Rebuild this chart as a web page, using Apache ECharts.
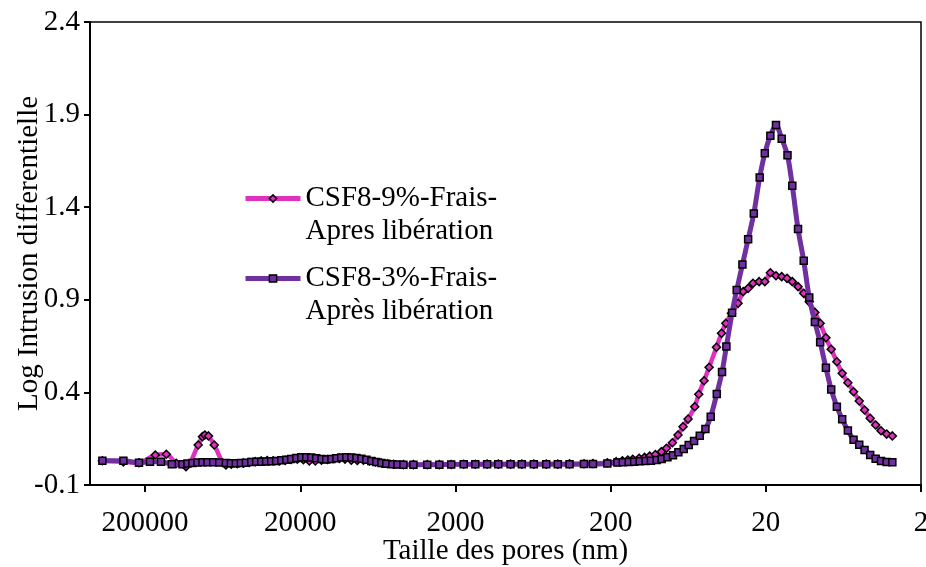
<!DOCTYPE html>
<html>
<head>
<meta charset="utf-8">
<script src="https://cdn.jsdelivr.net/npm/echarts@6/dist/echarts.min.js"></script>
<style>html,body{margin:0;padding:0;background:#fff}#c{width:926px;height:567px}</style>
</head>
<body>
<div id="c"></div>
<script>
// ---- Data (pore size in nm, log differential intrusion) ----
const seriesNames = ['CSF8-9%-Frais-\nApres libération', 'CSF8-3%-Frais-\nAprès libération'];

const poreA = [377000,276000,219000,172000,146000,126000,109000,91000,85400,82400,78100,71700,60300,55700,51000,46600,42700,39000,35700,32700,29900,27300,25000,22900,20900,19100,17500,16000,14600,13400,12300,11200,10300,9380,8580,7840,7170,6560,6000,5490,5020,4330,3730,3040,2540,2130,1770,1490,1250,1060,883,747,625,520,438,368,297,260,210,184,168,155,144,131,121,112,103,94.2,87.4,80.0,73.6,68.3,63.4,57.4,54.1,50.0,46.4,41.6,38.6,36.2,33.3,30.2,28.0,26.0,24.2,22.1,20.3,18.7,17.2,15.8,14.6,13.5,12.4,11.4,10.5,9.66,8.93,8.20,7.58,6.97,6.44,5.92,5.44,5.00,4.62,4.25,3.92,3.62,3.33,3.06];
const valA = [0.031,0.025,0.020,0.062,0.066,0.017,-0.001,0.116,0.161,0.170,0.165,0.116,0.008,0.012,0.015,0.018,0.022,0.026,0.030,0.032,0.031,0.030,0.033,0.038,0.040,0.036,0.030,0.030,0.034,0.038,0.042,0.044,0.040,0.034,0.032,0.034,0.030,0.024,0.019,0.015,0.012,0.010,0.010,0.010,0.010,0.011,0.012,0.012,0.013,0.013,0.013,0.013,0.013,0.013,0.013,0.014,0.015,0.016,0.020,0.026,0.031,0.035,0.039,0.044,0.049,0.056,0.065,0.080,0.098,0.128,0.170,0.215,0.256,0.323,0.390,0.463,0.536,0.644,0.719,0.773,0.827,0.881,0.944,0.962,0.989,0.998,0.998,1.046,1.030,1.025,1.016,0.998,0.971,0.935,0.889,0.832,0.773,0.695,0.633,0.566,0.503,0.452,0.404,0.354,0.305,0.260,0.224,0.193,0.175,0.165];

const poreB = [377000,276000,219000,186000,158000,134500,114900,106700,99100,92000,85400,79300,72800,66600,60300,56000,52000,48300,44800,41400,38500,35700,33200,30800,28600,26500,24600,22900,21200,19700,18300,17000,15800,14600,13600,12600,11700,10900,10100,9380,8700,8080,7500,6970,6470,6000,5580,5100,4730,4330,3730,3040,2540,2130,1770,1490,1250,1060,883,747,625,520,438,368,297,260,210,181,167,153,141,130,119,110,101,93.8,86.1,79.3,73.2,67.6,62.8,58.0,53.3,49.0,45.3,41.4,38.3,35.9,33.0,30.8,28.3,26.0,23.9,21.9,20.3,18.7,17.2,15.8,14.5,13.5,12.4,11.4,10.5,9.66,8.93,8.20,7.58,6.97,6.44,5.92,5.44,5.00,4.62,4.25,3.92,3.62,3.33,3.06];
const valB = [0.031,0.031,0.020,0.026,0.026,0.012,0.012,0.016,0.019,0.021,0.023,0.023,0.023,0.021,0.019,0.017,0.017,0.019,0.020,0.024,0.026,0.026,0.027,0.028,0.030,0.033,0.037,0.041,0.046,0.050,0.050,0.048,0.044,0.040,0.038,0.040,0.044,0.048,0.050,0.049,0.046,0.042,0.036,0.030,0.024,0.019,0.015,0.012,0.011,0.010,0.010,0.010,0.010,0.011,0.012,0.012,0.012,0.012,0.012,0.012,0.012,0.012,0.012,0.012,0.013,0.013,0.016,0.022,0.023,0.024,0.026,0.028,0.030,0.031,0.035,0.040,0.050,0.061,0.077,0.095,0.116,0.138,0.166,0.203,0.269,0.392,0.510,0.648,0.830,0.953,1.090,1.227,1.366,1.561,1.691,1.786,1.844,1.770,1.680,1.516,1.282,1.111,0.912,0.780,0.671,0.533,0.416,0.323,0.255,0.194,0.144,0.117,0.089,0.062,0.042,0.030,0.024,0.023];

const xTickLabels = [2, 20, 200, 2000, 20000, 200000];
const yTickLabels = [-0.1, 0.4, 0.9, 1.4, 1.9, 2.4];
const xMaxPore = 453000;
const colors = ['#E030C0', '#7030A0'];

// ---- transforms: x -> decades above 2 nm, y -> offset so axis min is 0 ----
const X0 = xTickLabels[0];
const Y0 = yTickLabels[0];
const toX = d => Math.log10(d / X0);
const toY = v => v - Y0;
const build = (p, v) => p.map((d, i) => [toX(d), toY(v[i])]);

const FONT = "'Liberation Serif','Times New Roman',serif";
const FS = 29;
const chart = echarts.init(document.getElementById('c'), null, {renderer: 'canvas'});
chart.setOption({
  animation: false,
  backgroundColor: '#fff',
  grid: {left: 90, right: 5, top: 22, bottom: 82, containLabel: false, outerBoundsMode: 'none',
         show: true, borderColor: '#000', borderWidth: 1.5},
  legend: {
    orient: 'vertical', left: 238, top: 144,
    itemWidth: 55, itemHeight: 9, itemGap: -19,
    data: seriesNames.map((n, i) => ({
      name: n,
      lineStyle: {width: 5, color: colors[i]},
      itemStyle: {color: colors[i], borderColor: '#000', borderWidth: 1.5}
    })),
    formatter: n => '\n' + n,
    textStyle: {fontFamily: FONT, fontSize: FS, color: '#000', lineHeight: 33}
  },
  xAxis: {
    type: 'value', inverse: true, min: 0, max: toX(xMaxPore), interval: 1,
    name: 'Taille des pores (nm)', nameLocation: 'middle', nameGap: 52, nameMoveOverlap: false,
    nameTextStyle: {fontFamily: FONT, fontSize: FS, color: '#000'},
    axisLine: {onZero: false, lineStyle: {color: '#000', width: 2}},
    axisTick: {show: true, inside: false, length: 7, lineStyle: {color: '#000', width: 2}},
    axisLabel: {
      fontFamily: FONT, fontSize: FS, color: '#000', margin: 24,
      showMaxLabel: false,
      formatter: v => {
        const r = Math.round(v);
        if (Math.abs(v - r) > 1e-6) return '';
        return String(X0 * Math.pow(10, r));
      }
    },
    splitLine: {show: false}
  },
  yAxis: {
    type: 'value', min: 0, max: toY(yTickLabels[yTickLabels.length - 1]), interval: 0.5,
    name: 'Log Intrusion differentielle', nameLocation: 'middle', nameGap: 46, nameMoveOverlap: false,
    nameTextStyle: {fontFamily: FONT, fontSize: FS, color: '#000'},
    axisLine: {show: true, onZero: false, lineStyle: {color: '#000', width: 2}},
    axisTick: {show: true, inside: false, length: 6, lineStyle: {color: '#000', width: 2}},
    axisLabel: {
      fontFamily: FONT, fontSize: FS, color: '#000', margin: 10,
      formatter: v => (v + Y0).toFixed(1)
    },
    splitLine: {show: false}
  },
  series: [
    {
      name: seriesNames[0], type: 'line', data: build(poreA, valA),
      smooth: 0.3, symbol: 'diamond', symbolSize: 8,
      lineStyle: {color: colors[0], width: 4.5},
      itemStyle: {color: colors[0], borderColor: '#000', borderWidth: 1.5},
      z: 2
    },
    {
      name: seriesNames[1], type: 'line', data: build(poreB, valB),
      smooth: 0.3, symbol: 'rect', symbolSize: 7,
      lineStyle: {color: colors[1], width: 5},
      itemStyle: {color: colors[1], borderColor: '#000', borderWidth: 1.5},
      z: 3
    }
  ]
});
</script>
</body>
</html>
